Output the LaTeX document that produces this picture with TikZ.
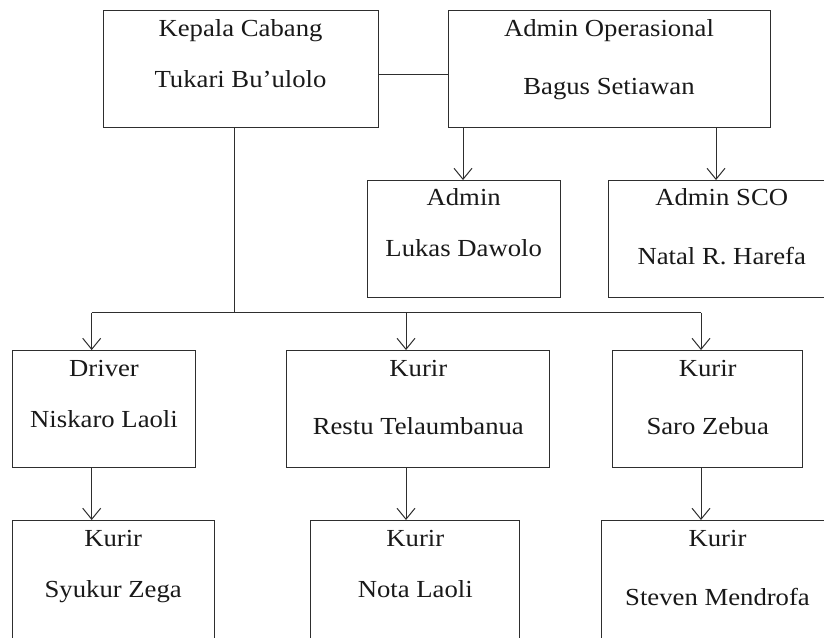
\documentclass[tikz,border=0pt]{standalone}
\usepackage{fontspec}
\setmainfont{Liberation Serif}[FakeStretch=1.09]
\usetikzlibrary{arrows.meta,calc}
\tikzset{
  box/.style={draw=black!82, line width=1pt, rectangle, inner sep=0pt, outer sep=0pt},
  lbl/.style={anchor=base, inner sep=0pt, outer sep=0pt, font=\fontsize{24.5pt}{28pt}\selectfont, text=black!90},
  conn/.style={draw=black!82, line width=1pt},
  arr/.style={conn, -{Straight Barb[length=11pt,width=18pt,line width=1pt]}}
}
\begin{document}
\begin{tikzpicture}[x=1pt,y=-1pt]
\useasboundingbox (0,0) rectangle (824,637);
\clip (0,0) rectangle (824,637);
% top row
\node[box, minimum width=275pt, minimum height=117pt] (kc) at (240.5,68.5) {};
\node[lbl] (kc1) at ([yshift=-26.7pt]kc.north) {Kepala Cabang};
\node[lbl] (kc2) at ([yshift=-77.3pt]kc.north) {Tukari Bu’ulolo};
\node[box, minimum width=322pt, minimum height=117pt] (ao) at (609,68.5) {};
\node[lbl] (ao1) at ([yshift=-26.5pt]ao.north) {Admin Operasional};
\node[lbl] (ao2) at ([yshift=-84pt]ao.north) {Bagus Setiawan};
% admin row
\node[box, minimum width=192.7pt, minimum height=117.7pt] (ad) at (463.7,238.9) {};
\node[lbl] (ad1) at ([yshift=-25pt]ad.north) {Admin};
\node[lbl] (ad2) at ([yshift=-76.7pt]ad.north) {Lukas Dawolo};
\node[box, minimum width=226pt, minimum height=117.7pt] (sco) at (721.7,238.9) {};
\node[lbl] (sco1) at ([yshift=-25pt]sco.north) {Admin SCO};
\node[lbl] (sco2) at ([yshift=-84pt]sco.north) {Natal R. Harefa};
% middle row
\node[box, minimum width=183.4pt, minimum height=117.7pt] (dr) at (104,408.9) {};
\node[lbl] (dr1) at ([yshift=-26.7pt]dr.north) {Driver};
\node[lbl] (dr2) at ([yshift=-77.7pt]dr.north) {Niskaro Laoli};
\node[box, minimum width=263.3pt, minimum height=117.7pt] (rt) at (418.3,408.9) {};
\node[lbl] (rt1) at ([yshift=-26.7pt]rt.north) {Kurir};
\node[lbl] (rt2) at ([yshift=-84pt]rt.north) {Restu Telaumbanua};
\node[box, minimum width=190pt, minimum height=117.7pt] (sz) at (707.7,408.9) {};
\node[lbl] (sz1) at ([yshift=-26.7pt]sz.north) {Kurir};
\node[lbl] (sz2) at ([yshift=-84pt]sz.north) {Saro Zebua};
% bottom row
\node[box, minimum width=201.7pt, minimum height=130pt] (sy) at (113.2,585) {};
\node[lbl] (sy1) at ([yshift=-26.7pt]sy.north) {Kurir};
\node[lbl] (sy2) at ([yshift=-77.7pt]sy.north) {Syukur Zega};
\node[box, minimum width=209.3pt, minimum height=130pt] (nl) at (415.3,585) {};
\node[lbl] (nl1) at ([yshift=-26.7pt]nl.north) {Kurir};
\node[lbl] (nl2) at ([yshift=-77.7pt]nl.north) {Nota Laoli};
\node[box, minimum width=233pt, minimum height=130pt] (sm) at (717.5,585) {};
\node[lbl] (sm1) at ([yshift=-26.7pt]sm.north) {Kurir};
\node[lbl] (sm2) at ([yshift=-85pt]sm.north) {Steven Mendrofa};
% connectors
\draw[conn] (kc.east |- 0,74) -- (ao.west |- 0,74);
\coordinate (xa1) at (463,0);
\coordinate (xa2) at (716,0);
\draw[arr] (ao.south -| xa1) -- (ad.north -| xa1);
\draw[arr] (ao.south -| xa2) -- (sco.north -| xa2);
\coordinate (bus) at (234,312.5);
\coordinate (xc1) at (91.7,0);
\coordinate (xc2) at (406,0);
\coordinate (xc3) at (701,0);
\draw[conn] (kc.south -| bus) -- (bus);
\draw[conn] (xc1 |- bus) -- (xc3 |- bus);
\draw[arr] (xc1 |- bus) -- (dr.north -| xc1);
\draw[arr] (xc2 |- bus) -- (rt.north -| xc2);
\draw[arr] (xc3 |- bus) -- (sz.north -| xc3);
\draw[arr] (dr.south -| xc1) -- (sy.north -| xc1);
\draw[arr] (rt.south -| xc2) -- (nl.north -| xc2);
\draw[arr] (sz.south -| xc3) -- (sm.north -| xc3);
\end{tikzpicture}
\end{document}
